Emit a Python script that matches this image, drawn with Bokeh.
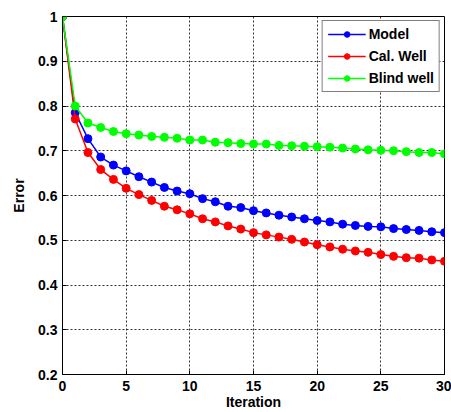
from bokeh.plotting import figure
from bokeh.models import Range1d, FixedTicker, Legend, LegendItem
from bokeh.embed import file_html
from bokeh.resources import INLINE

iterations = list(range(0, 31))
model = [1.0, 0.785, 0.727, 0.686, 0.668, 0.655, 0.642, 0.630, 0.618, 0.610, 0.604,
         0.593, 0.586, 0.576, 0.573, 0.566, 0.561, 0.556, 0.552, 0.548, 0.544,
         0.541, 0.536, 0.533, 0.531, 0.530, 0.526, 0.524, 0.522, 0.519, 0.517]
cal_well = [1.0, 0.771, 0.696, 0.658, 0.636, 0.616, 0.602, 0.589, 0.576, 0.568, 0.559,
            0.548, 0.541, 0.532, 0.525, 0.517, 0.512, 0.507, 0.502, 0.496, 0.490,
            0.485, 0.480, 0.476, 0.473, 0.468, 0.464, 0.461, 0.460, 0.456, 0.453]
blind_well = [1.0, 0.800, 0.762, 0.752, 0.743, 0.738, 0.735, 0.732, 0.730, 0.728, 0.724,
              0.724, 0.719, 0.718, 0.716, 0.715, 0.715, 0.712, 0.711, 0.710, 0.709,
              0.708, 0.706, 0.704, 0.702, 0.701, 0.700, 0.698, 0.696, 0.696, 0.693]
series_names = ["Model", "Cal. Well", "Blind well"]
colors = ["#0000FF", "#FF0000", "#00FF00"]
x_ticks = [0, 5, 10, 15, 20, 25, 30]
y_ticks = [0.2, 0.3, 0.4, 0.5, 0.6, 0.7, 0.8, 0.9, 1.0]

FONT = "Liberation Sans"

p = figure(width=451, height=412, output_backend="svg", toolbar_location=None,
           x_range=Range1d(0, 30), y_range=Range1d(0.2, 1.0),
           min_border_left=62, min_border_right=7, min_border_top=16, min_border_bottom=36)
p.outline_line_color = "black"
p.outline_line_width = 1

items = []
for name, ys, c in zip(series_names, [model, cal_well, blind_well], colors):
    r1 = p.line(iterations, ys, line_color=c, line_width=1.5)
    r2 = p.scatter(iterations, ys, marker="circle", size=8, fill_color=c, line_color=c)
    items.append(LegendItem(label=name, renderers=[r1, r2]))

legend = Legend(items=items, location="top_right")
legend.label_text_font = FONT
legend.label_text_font_style = "bold"
legend.label_text_font_size = "14px"
legend.label_text_color = "black"
legend.border_line_color = "black"
legend.border_line_width = 1
legend.glyph_width = 38
legend.glyph_height = 14
legend.spacing = 6
legend.padding = 5
legend.margin = 4
legend.label_standoff = 3
legend.background_fill_alpha = 1
p.add_layout(legend)

for ax in (p.xaxis[0], p.yaxis[0]):
    ax.major_label_text_font = FONT
    ax.major_label_text_font_style = "bold"
    ax.major_label_text_font_size = "14px"
    ax.major_label_text_color = "black"
    ax.axis_label_text_font = FONT
    ax.axis_label_text_font_style = "bold"
    ax.axis_label_text_font_size = "14px"
    ax.axis_label_text_color = "black"
    ax.axis_line_color = "black"
    ax.major_tick_in = 4
    ax.major_tick_out = 0
    ax.minor_tick_line_color = None
    ax.major_tick_line_color = "black"

p.xaxis.ticker = FixedTicker(ticks=x_ticks)
p.yaxis.ticker = FixedTicker(ticks=y_ticks)
p.yaxis.major_label_overrides = {1.0: "1", 1: "1"}
p.xaxis.axis_label = "Iteration"
p.yaxis.axis_label = "Error"
p.xaxis.axis_label_standoff = 0
p.yaxis.axis_label_standoff = 8
p.xaxis.major_label_standoff = 6
p.yaxis.major_label_standoff = 5

for g in (p.xgrid[0], p.ygrid[0]):
    g.grid_line_color = "black"
    g.grid_line_dash = "2 2"
    g.grid_line_width = 1
    g.grid_line_alpha = 0.8

p.background_fill_color = "white"
p.border_fill_color = "white"

open("out.html", "w").write(file_html(p, INLINE))
